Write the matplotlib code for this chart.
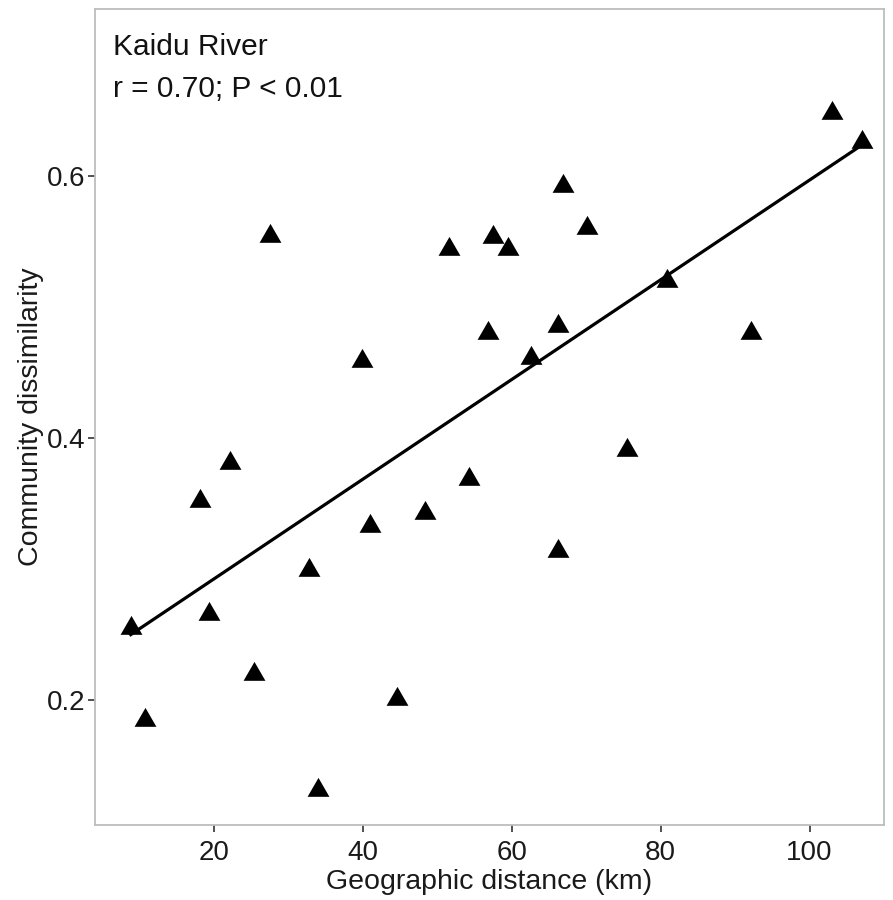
import numpy as np
import matplotlib
matplotlib.use("Agg")
import matplotlib.pyplot as plt
from matplotlib.path import Path

# Data
distance_km = [8.8, 10.7, 18.1, 19.3, 22.1, 25.3, 27.5, 32.8, 34.0, 39.9, 40.9, 44.6,
               48.4, 51.6, 54.2, 56.8, 57.5, 59.5, 62.6, 66.2, 66.2, 66.9, 70.1, 75.5,
               80.8, 92.1, 103.0, 107.0]
dissimilarity = [0.255, 0.185, 0.352, 0.266, 0.381, 0.220, 0.554, 0.299, 0.132, 0.459,
                 0.333, 0.201, 0.343, 0.544, 0.369, 0.480, 0.553, 0.544, 0.461, 0.485,
                 0.314, 0.592, 0.560, 0.391, 0.520, 0.480, 0.648, 0.626]
x_ticks = [20, 40, 60, 80, 100]
y_ticks = [0.2, 0.4, 0.6]
title_lines = ["Kaidu River", "r = 0.70; P < 0.01"]

plt.rcParams['font.family'] = ['Liberation Sans', 'DejaVu Sans']

fig = plt.figure(figsize=(8.93, 9.00), dpi=100)
ax = fig.add_axes([95/893, 1 - 825/900, (884-95)/893, (825-9)/900])

x = np.array(distance_km)
y = np.array(dissimilarity)

# equilateral triangle marker centred on centroid
tri = Path([(0, 0.577), (-0.5, -0.289), (0.5, -0.289), (0, 0.577)],
           [Path.MOVETO, Path.LINETO, Path.LINETO, Path.CLOSEPOLY])
ax.scatter(x, y, marker=tri, s=330, color='black', linewidths=0, zorder=3)

slope, intercept = np.polyfit(x, y, 1)
xl = np.array([x.min(), x.max()])
ax.plot(xl, slope * xl + intercept, color='black', lw=2.3, zorder=2)

ax.set_xlim(4.0, 110.0)
ax.set_ylim(0.105, 0.727)
ax.set_xticks(x_ticks)
ax.set_yticks(y_ticks)
ax.set_xticklabels([str(t) for t in x_ticks])
ax.set_yticklabels([f"{t:.1f}" for t in y_ticks])
ax.tick_params(axis='both', labelsize=20, colors='#333333', length=5, width=1.2,
               labelcolor='#1a1a1a')
ax.tick_params(axis='x', pad=6)
ax.tick_params(axis='y', pad=2)
for s in ax.spines.values():
    s.set_color('#bdbdbd')
    s.set_linewidth(1.3)

ax.set_xlabel("Geographic distance (km)", fontsize=20.5, color='#1a1a1a', labelpad=2)
ax.set_ylabel("Community dissimilarity", fontsize=20.5, color='#1a1a1a', labelpad=2)

ax.text(0.023, 0.9436, title_lines[0], transform=ax.transAxes, fontsize=21.5,
        va='baseline', ha='left', color='#111111')
ax.text(0.023, 0.892, title_lines[1], transform=ax.transAxes, fontsize=21.5,
        va='baseline', ha='left', color='#111111')

fig.savefig("out.png", dpi=100)
